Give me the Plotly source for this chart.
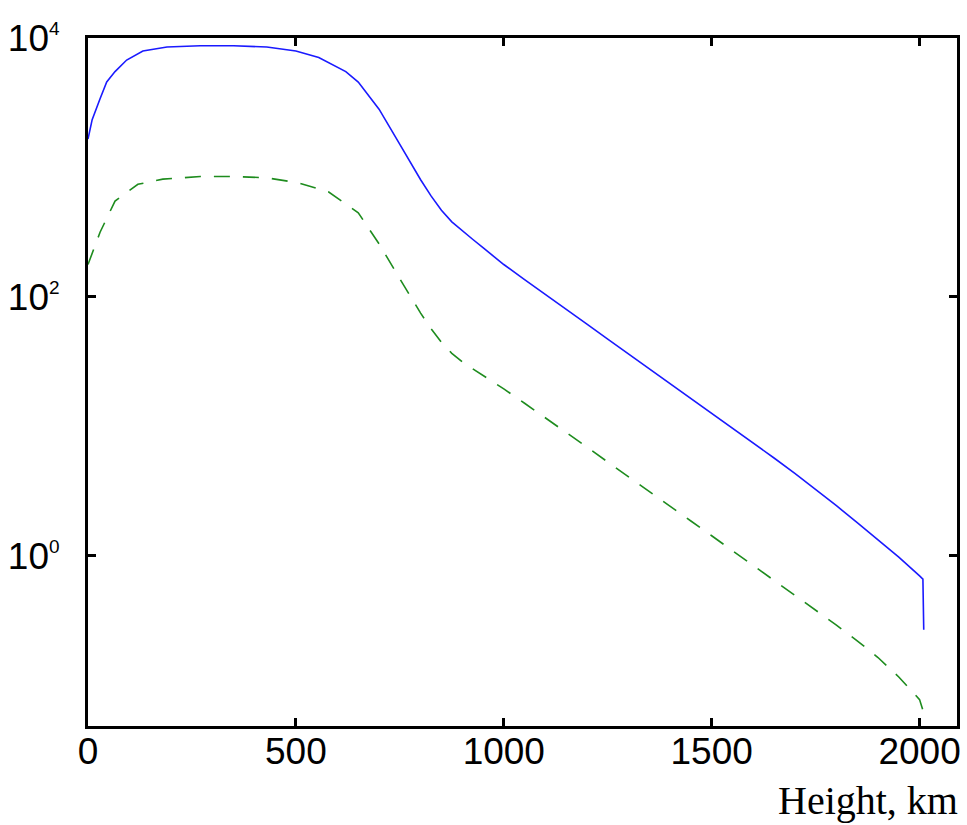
import plotly.graph_objects as go

# Height (km) and values
blue_km = [0, 10, 29, 45, 65, 93, 132, 190, 270, 350, 430, 500, 555, 620,
           650, 700, 750, 800, 825, 850, 875, 900, 925, 950, 975, 1000, 1050, 1100, 1150,
           1200, 1250, 1300, 1350, 1400, 1450, 1500, 1550, 1600, 1650, 1700, 1750, 1800,
           1850, 1900, 1950, 2000, 2008, 2010]
blue_val = [1660, 2340, 3390, 4570, 5500, 6760, 7940, 8510, 8710, 8710, 8510, 7940, 7080, 5500,
            4570, 2820, 1510, 804, 603, 468, 380, 324, 279, 240, 207, 178, 136, 105, 80.4,
            61.7, 47.3, 36.3, 28.2, 21.6, 16.6, 12.7, 9.77, 7.48, 5.70, 4.33, 3.26, 2.44,
            1.81, 1.34, 0.979, 0.700, 0.661, 0.269]

green_km = [0, 29, 65, 120, 180, 270, 350, 430, 507, 579,
            650, 700, 750, 800, 825, 850, 875, 900, 925, 950, 975, 1000, 1050, 1100, 1150,
            1200, 1250, 1300, 1350, 1400, 1450, 1500, 1550, 1600, 1650, 1700, 1750, 1800,
            1850, 1900, 1950, 2000, 2013]
green_val = [178, 316, 550, 741, 813, 851, 851, 832, 759, 646,
             447, 257, 138, 75.0, 56.9, 44.7, 36.7, 31.6, 27.9, 24.8, 22.1, 19.5, 15.1, 11.7,
             9.02, 6.92, 5.31, 4.07, 3.16, 2.43, 1.86, 1.43, 1.10, 0.841, 0.646, 0.495, 0.380,
             0.292, 0.221, 0.164, 0.116, 0.0776, 0.0569]

x_ticks = [0, 500, 1000, 1500, 2000]
y_ticks = [1, 100, 10000]
y_exps = ["0", "2", "4"]
y_ticktext = ["10<sup><span style='font-size:19px'>%s</span></sup>" % e for e in y_exps]
x_title = "Height, km"

fig = go.Figure()
fig.add_trace(go.Scatter(x=blue_km, y=blue_val, mode="lines",
                         line=dict(color="#1a1aff", width=1.6), showlegend=False))
fig.add_trace(go.Scatter(x=green_km, y=green_val, mode="lines",
                         line=dict(color="#1e8c1e", width=1.6, dash="16px,13px"),
                         showlegend=False))

axis_common = dict(showline=True, linecolor="black", linewidth=3, mirror="ticks",
                   ticks="inside", ticklen=8, tickwidth=2.5, tickcolor="black",
                   showgrid=False, zeroline=False,
                   tickfont=dict(family="Liberation Sans, Arial, sans-serif", size=37,
                                 color="black"))

fig.update_xaxes(range=[0, 2090], tickvals=x_ticks, ticktext=[str(v) for v in x_ticks],
                 ticklabelstandoff=-9, **axis_common)
fig.update_yaxes(type="log", range=[-1.314, 4.0], tickvals=y_ticks, ticktext=y_ticktext,
                 ticklabelstandoff=18, **axis_common)

fig.add_annotation(text=x_title, xref="paper", yref="paper", x=1.003, y=-0.108,
                   xanchor="right", yanchor="middle", showarrow=False,
                   font=dict(family="Liberation Serif, Times New Roman, serif", size=40,
                             color="black"))

fig.update_layout(width=967, height=825, margin=dict(l=88, r=6, t=38, b=99),
                  plot_bgcolor="white", paper_bgcolor="white")

fig.write_html("out.html")
